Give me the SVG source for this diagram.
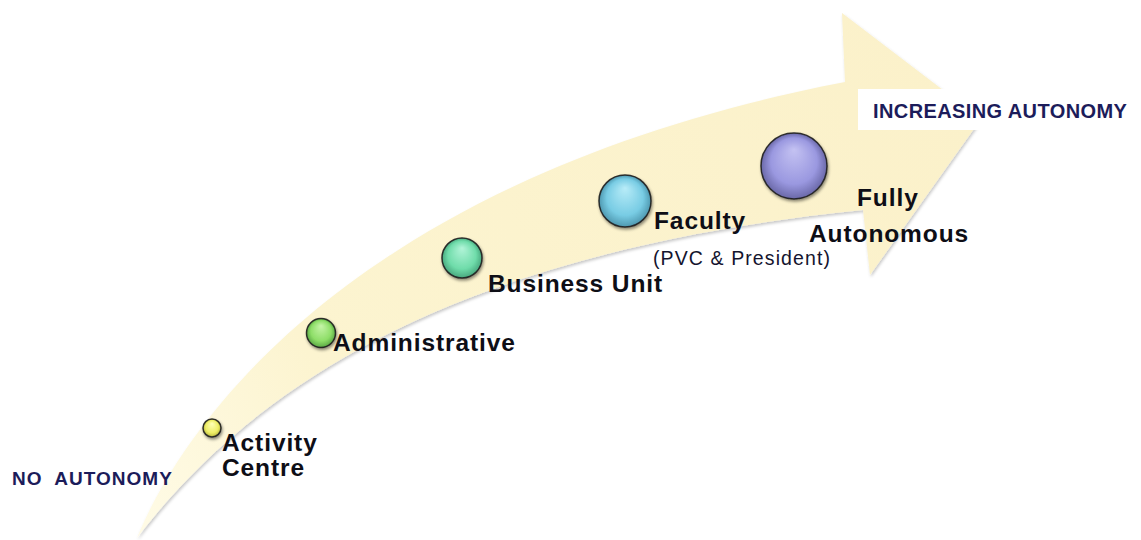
<svg xmlns="http://www.w3.org/2000/svg" width="1141" height="540" viewBox="0 0 1141 540">
  <defs>
    <linearGradient id="arrowFill" x1="137" y1="538" x2="981" y2="100" gradientUnits="userSpaceOnUse">
      <stop offset="0" stop-color="#fffbe6"/>
      <stop offset="0.25" stop-color="#fcf4d0"/>
      <stop offset="1" stop-color="#fbf1ca"/>
    </linearGradient>
    <filter id="bandShadow" x="-5%" y="-5%" width="110%" height="115%">
      <feDropShadow dx="1" dy="2" stdDeviation="1.5" flood-color="#000" flood-opacity="0.22"/>
    </filter>
    <filter id="ballShadow" x="-40%" y="-40%" width="180%" height="180%">
      <feDropShadow dx="1" dy="2" stdDeviation="1.5" flood-color="#000" flood-opacity="0.45"/>
    </filter>
    <radialGradient id="gYellow" cx="0.5" cy="0.5" r="0.5" fx="0.5" fy="0.25">
      <stop offset="0" stop-color="#ffffb8"/>
      <stop offset="0.7" stop-color="#eeee66"/>
      <stop offset="1" stop-color="#b8b840"/>
    </radialGradient>
    <radialGradient id="gGreen" cx="0.5" cy="0.5" r="0.5" fx="0.5" fy="0.25">
      <stop offset="0" stop-color="#c6f4a8"/>
      <stop offset="0.7" stop-color="#8ede68"/>
      <stop offset="1" stop-color="#5aa844"/>
    </radialGradient>
    <radialGradient id="gTeal" cx="0.5" cy="0.5" r="0.5" fx="0.5" fy="0.25">
      <stop offset="0" stop-color="#b2f4d8"/>
      <stop offset="0.7" stop-color="#6fdcaa"/>
      <stop offset="1" stop-color="#48a87e"/>
    </radialGradient>
    <radialGradient id="gBlue" cx="0.5" cy="0.5" r="0.5" fx="0.5" fy="0.25">
      <stop offset="0" stop-color="#b8ecf8"/>
      <stop offset="0.7" stop-color="#78cce4"/>
      <stop offset="1" stop-color="#4e98b0"/>
    </radialGradient>
    <radialGradient id="gPurple" cx="0.5" cy="0.5" r="0.5" fx="0.5" fy="0.25">
      <stop offset="0" stop-color="#c4c2f2"/>
      <stop offset="0.7" stop-color="#9a98e0"/>
      <stop offset="1" stop-color="#6a68a8"/>
    </radialGradient>
  </defs>
  <style>
    .ball { stroke: #1e1e1e; stroke-width: 1.5; stroke-opacity: 0.9; filter: url(#ballShadow); }
    .label { font-family: "Liberation Sans", Arial, sans-serif; font-weight: bold; font-size: 24.5px; letter-spacing: 0.9px; fill: #0e0e16; }
    .sub { font-family: "Liberation Sans", Arial, sans-serif; font-size: 19.5px; letter-spacing: 1.1px; fill: #14142e; }
    .scale { font-family: "Liberation Sans", Arial, sans-serif; font-weight: bold; fill: #1c1c5a; }
  </style>

  <!-- curved progress arrow -->
  <g id="arrow" filter="url(#bandShadow)">
    <path fill="url(#arrowFill)"
          d="M137,538 C185,420 360,175 845,82 L842,13 L981,119 L870,275 L863,210 C420,255 235,410 137,538 Z"/>
  </g>

  <!-- scale end labels -->
  <g id="scale-end">
    <rect x="858" y="89" width="283" height="41" fill="#ffffff"/>
    <text class="scale" x="873" y="118" font-size="20" letter-spacing="0.4">INCREASING AUTONOMY</text>
  </g>
  <g id="scale-start">
    <text class="scale" x="12" y="485" font-size="19" letter-spacing="1" xml:space="preserve">NO  AUTONOMY</text>
  </g>

  <!-- stages -->
  <g id="activity-centre">
    <circle class="ball" cx="212" cy="428" r="9" fill="url(#gYellow)"/>
    <text class="label" x="222" y="451">Activity</text>
    <text class="label" x="222" y="476">Centre</text>
  </g>
  <g id="administrative">
    <circle class="ball" cx="321" cy="333" r="14.5" fill="url(#gGreen)"/>
    <text class="label" x="333" y="351">Administrative</text>
  </g>
  <g id="business-unit">
    <circle class="ball" cx="462" cy="258" r="20" fill="url(#gTeal)"/>
    <text class="label" x="488" y="292">Business Unit</text>
  </g>
  <g id="faculty">
    <circle class="ball" cx="625" cy="201" r="26" fill="url(#gBlue)"/>
    <text class="label" x="654" y="229">Faculty</text>
    <text class="sub" x="653" y="265">(PVC &amp; President)</text>
  </g>
  <g id="fully-autonomous">
    <circle class="ball" cx="794" cy="166" r="33" fill="url(#gPurple)"/>
    <text class="label" x="857" y="206">Fully</text>
    <text class="label" x="809" y="242">Autonomous</text>
  </g>
</svg>
